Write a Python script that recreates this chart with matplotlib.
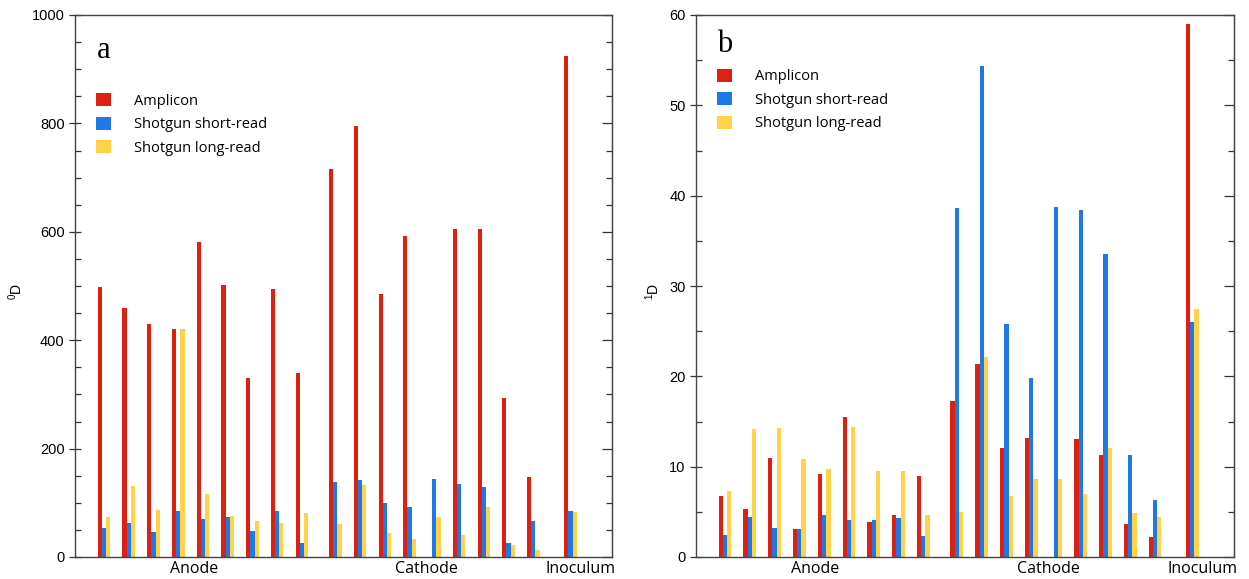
import matplotlib
matplotlib.use("Agg")
import matplotlib.pyplot as plt
import numpy as np

# values; None = bar not drawn
series = ["Amplicon", "Shotgun short-read", "Shotgun long-read"]
colors = ["#DD2010", "#1E78E6", "#FFD24A"]
group_names = ["Anode", "Cathode", "Inoculum"]
group_sizes = [9, 9, 1]

d0_amplicon = [499, 459, 429, 421, 582, 501, 330, 494, 339,
               716, 796, 485, 593, None, 606, 606, 293, 148,
               925]
d0_short = [53, 63, 46, 84, 71, 73, 48, 85, 25,
            138, 142, 100, 92, 144, 134, 129, 25, 67,
            84]
d0_long = [74, 131, 87, 421, 116, 76, 66, 62, 81,
           60, 133, 44, 34, 74, 41, 93, 22, 12,
           83]

d1_amplicon = [6.8, 5.3, 11.0, 3.1, 9.2, 15.5, 3.9, 4.6, 9.0,
               17.3, 21.4, 12.1, 13.2, None, 13.1, 11.3, 3.7, 2.2,
               59.0]
d1_short = [2.4, 4.4, 3.2, 3.1, 4.7, 4.1, 4.1, 4.3, 2.3,
            38.6, 54.4, 25.8, 19.8, 38.8, 38.4, 33.5, 11.3, 6.3,
            26.0]
d1_long = [7.3, 14.2, 14.3, 10.9, 9.7, 14.4, 9.5, 9.5, 4.6,
           5.0, 22.1, 6.8, 8.6, 8.6, 7.0, 12.1, 4.9, 4.4,
           27.5]

plt.rcParams['font.family'] = ['Liberation Sans', 'DejaVu Sans']
plt.rcParams['mathtext.fontset'] = 'custom'
plt.rcParams['mathtext.rm'] = 'Liberation Sans'


def positions():
    # slot positions with a wider gap between sample groups
    gaps = [0.0, 0.35, 0.5]
    pos = []
    start = 0.0
    for n, g in zip(group_sizes, gaps):
        start += g
        pos.extend(start + np.arange(n))
        start += n
    return np.array(pos)


def draw_panel(ax, data, letter, ymax, major, minor, ylabel, ylab_x, leg_y, letter_y):
    x = positions()
    w = 0.17
    for i, (vals, col, name) in enumerate(zip(data, colors, series)):
        xs = [xi + i * w for xi, v in zip(x, vals) if v is not None]
        vs = [v for v in vals if v is not None]
        ax.bar(xs, vs, width=w, color=col, label=name, linewidth=0)
    ax.set_xlim(-1.0, 20.7)
    ax.set_ylim(0, ymax)
    majors = np.arange(0, ymax + 1e-9, major)
    minors = np.arange(0, ymax + 1e-9, minor)
    ax.set_yticks(majors)
    ax.set_yticks(minors, minor=True)
    ax.tick_params(axis='y', which='major', direction='inout', length=8,
                   labelsize=10.5, width=0.9, color='#333333')
    ax.tick_params(axis='y', which='minor', direction='in', length=4,
                   width=0.9, color='#333333')
    # right spine ticks point inward only
    sec = ax.secondary_yaxis('right')
    sec.set_yticks(majors)
    sec.set_yticks(minors, minor=True)
    sec.tick_params(which='major', direction='in', length=7, width=0.9,
                    color='#333333', labelright=False)
    sec.tick_params(which='minor', direction='in', length=4, width=0.9,
                    color='#333333')
    sec.spines['right'].set_color('#444444')
    # group labels under the x axis
    label_pos = [x[3] + 0.82, x[12] + 0.87, x[18] + 0.57]
    ax.set_xticks(label_pos)
    ax.set_xticklabels(group_names, family='Open Sans', fontsize=11.5)
    ax.tick_params(axis='x', length=0, pad=3)
    for s in ax.spines.values():
        s.set_color('#444444')
        s.set_linewidth(1.0)
    ax.set_ylabel(ylabel, fontsize=10)
    ax.yaxis.set_label_coords(ylab_x, 0.49)
    ax.text(0.04, letter_y, letter, transform=ax.transAxes, fontsize=22,
            family='Liberation Serif', va='center', ha='left')
    ax.legend(loc='upper left', bbox_to_anchor=(0.015, leg_y), frameon=False,
              handlelength=1.0, handleheight=1.0, handletextpad=1.6,
              labelspacing=0.55, prop={'family': 'Open Sans', 'size': 10.5})


fig = plt.figure(figsize=(12.49, 5.79), dpi=100)
ax1 = fig.add_axes([75 / 1249, 22 / 579, 537 / 1249, 542 / 579])
ax2 = fig.add_axes([696 / 1249, 22 / 579, 538 / 1249, 542 / 579])

draw_panel(ax1, [d0_amplicon, d0_short, d0_long], "a", 1000, 200, 50,
           r"$\mathregular{^0D}$", -0.094, 0.88, 0.935)
draw_panel(ax2, [d1_amplicon, d1_short, d1_long], "b", 60, 10, 5,
           r"$\mathregular{^1D}$", -0.063, 0.925, 0.945)

fig.savefig("out.png", dpi=100)
